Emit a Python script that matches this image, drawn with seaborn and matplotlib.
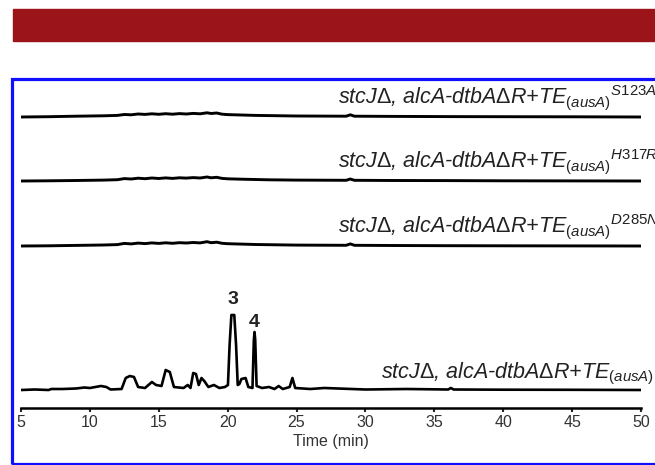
import numpy as np
import pandas as pd
import seaborn as sns
import matplotlib.pyplot as plt
from matplotlib.patches import Rectangle

# retention time (min) and detector response (arbitrary units)
T_FLAT = [5, 7, 9, 11, 12, 12.5, 13, 13.5, 14, 14.5, 15, 15.5, 16, 16.5, 17, 17.5,
          18, 18.5, 18.8, 19.2, 19.6, 20, 21, 22, 23, 25, 28.6, 28.9, 29.2, 32, 36, 40, 45, 50]
S123A = [0, 0.3, 0.8, 1.2, 1.6, 2.5, 2.2, 3.0, 2.6, 3.2, 2.7, 3.3, 2.8, 3.4, 3.0, 3.6,
         3.2, 4.2, 3.5, 4.0, 2.8, 2.4, 2.0, 1.6, 1.4, 1.0, 0.8, 2.2, 0.8, 0.6, 0.4, 0.3, 0.2, 0]
H317R = [0, 0.2, 0.5, 0.9, 1.3, 2.4, 2.0, 2.8, 2.3, 3.0, 2.5, 3.1, 2.6, 3.2, 2.9, 3.4,
         3.0, 4.0, 3.2, 3.7, 2.6, 2.2, 1.8, 1.5, 1.2, 0.9, 0.7, 2.0, 0.7, 0.5, 0.4, 0.2, 0.1, 0]
D285N = [0, 0.2, 0.6, 1.0, 1.4, 2.6, 2.1, 2.9, 2.4, 3.1, 2.6, 3.2, 2.7, 3.3, 3.0, 3.5,
         3.1, 4.3, 3.3, 3.8, 2.7, 2.3, 1.9, 1.5, 1.3, 0.9, 0.7, 2.1, 0.7, 0.5, 0.3, 0.2, 0.1, 0]

T_WT = [5, 6, 7, 7.2, 8, 9, 9.6, 10, 10.8, 11.2, 11.5, 12.3, 12.6, 12.9, 13.2, 13.5, 14, 14.5,
        14.8, 15.2, 15.5, 15.8, 16.1, 16.8, 17.1, 17.3, 17.5, 17.7, 17.9, 18.1, 18.3, 18.6,
        19, 19.4, 19.8, 20.02, 20.14, 20.27, 20.48, 20.61, 20.73, 20.85, 21.0, 21.3, 21.5,
        21.8, 21.9, 21.95, 22.0, 22.1, 22.5, 23, 23.4, 23.7, 24, 24.5, 24.7, 24.9, 26, 27,
        30, 33, 36, 36.2, 36.4, 40, 45, 50]
WT = [0, 0.5, 0, 1, 1, 1.5, 2.5, 2, 4, 3, 0.5, 1, 12, 14, 13, 3, 2, 8,
      5, 4, 20, 18, 3, 2, 5, 2, 17, 16, 5, 12, 9, 3,
      5, 2, 3, 5, 45, 75, 75, 45, 5, 6, 11, 12, 3,
      2, 50, 58, 50, 4, 2, 3, 1, 4, 1, 3, 12, 2, 1, 2,
      0.5, 1, 0.5, 2, 0.5, 0.3, 0.2, 0]

LABEL = r"stcJ$\Delta$, alcA-dtbA$\Delta$R+$TE_{(ausA)}$"
MUTANTS = ["S123A", "H317R", "D285N"]
TICKS = [5, 10, 15, 20, 25, 30, 35, 40, 45, 50]

W, H = 655, 465
sns.set_style("white")
plt.rcParams['font.family'] = ['Liberation Sans', 'DejaVu Sans']
plt.rcParams['mathtext.fontset'] = 'custom'
plt.rcParams['mathtext.rm'] = 'Liberation Sans'
plt.rcParams['mathtext.it'] = 'Liberation Sans:italic'

fig = plt.figure(figsize=(W / 100, H / 100), dpi=100)
ax = fig.add_axes([21 / W, (H - 408) / H, (641 - 21) / W, (408 - 82) / H])

# vertical offsets of the stacked traces
offsets = {"S123A": 291, "H317R": 227, "D285N": 162, "WT": 18}
series = {"S123A": S123A, "H317R": H317R, "D285N": D285N}

for name, vals in series.items():
    df = pd.DataFrame({"t": T_FLAT, "y": np.array(vals) + offsets[name]})
    sns.lineplot(data=df, x="t", y="y", ax=ax, color="black", lw=2.1)
df = pd.DataFrame({"t": T_WT, "y": np.array(WT) + offsets["WT"]})
sns.lineplot(data=df, x="t", y="y", ax=ax, color="black", lw=1.9)

for name in MUTANTS:
    lab = LABEL[:-1] + "{}^{" + name + "}$"
    ax.text(28, offsets[name] + 14, lab, fontsize=15.5, fontstyle="italic",
            va="baseline", ha="left", color="#222222", clip_on=False)
ax.text(31.1, offsets["WT"] + 12, LABEL, fontsize=15.5, fontstyle="italic",
        va="baseline", ha="left", color="#222222", clip_on=False)

ax.text(20.4, 109, "3", fontsize=14, fontweight="bold", ha="center", va="center",
        color="#222222")
ax.text(21.95, 86, "4", fontsize=14, fontweight="bold", ha="center", va="center",
        color="#222222")

ax.set_xlim(5, 50)
ax.set_ylim(0, 326)
ax.set_xticks(TICKS)
ax.set_yticks([])
ax.set_xlabel("Time (min)", fontsize=11.5, color="#333333", labelpad=3)
ax.set_ylabel("")
for s in ["left", "top", "right"]:
    ax.spines[s].set_visible(False)
ax.spines["bottom"].set_linewidth(1.8)
ax.spines["bottom"].set_color("black")
ax.tick_params(axis="x", direction="out", length=3, width=1.5, pad=2,
               labelsize=11.5, labelcolor="#333333", bottom=True)

# red banner and blue frame
fig.patches.append(Rectangle((13 / W, (H - 41) / H), 1 - 13 / W, 32 / H,
                             transform=fig.transFigure, color="#9b1419", zorder=0))
fig.patches.append(Rectangle((11.5 / W, 1.5 / H), 1.0, (463.5 - 79.5) / H,
                             transform=fig.transFigure, fill=False, ec="#1010ff",
                             lw=2.3, zorder=0))

fig.savefig("out.png", dpi=100)
